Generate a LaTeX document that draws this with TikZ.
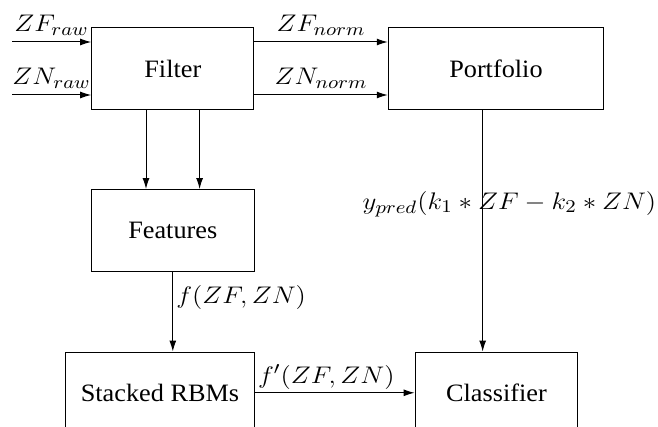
\documentclass[tikz,border=0pt]{standalone}
\usepackage[no-math]{fontspec}
\setmainfont{Liberation Serif}
\usepackage{graphicx}
\usetikzlibrary{positioning,arrows.meta}

\newcommand{\boxtext}[1]{\scalebox{1.05}[1]{#1}}
\newcommand{\edgemath}[1]{\scalebox{1.12}[1]{$#1$}}

\begin{document}
\begin{tikzpicture}[-{Latex[length=5.5pt,width=3.5pt]},line width=0.5pt,
                    block/.style={draw,-,inner sep=0pt,minimum height=40.75pt},
                    every node/.style={font=\fontsize{12.5}{15}\selectfont}]

        \useasboundingbox (0,0) rectangle (329pt,-213.5pt);

        % Blocks
        \node[block,minimum width=81.15pt] (filter) at (86.4pt,-34.25pt) {\boxtext{Filter}};
        \node[block,minimum width=107.7pt] (portfolio) [right=66.65pt of filter] {\boxtext{Portfolio}};
        \node[block,minimum width=81.3pt] (features) [below=39.65pt of filter] {\boxtext{Features}};
        \node[block,minimum width=94.15pt] (rbm) [below=40pt of features.south east,anchor=north east] {\boxtext{Stacked RBMs}};
        \node[block,minimum width=81.35pt] (clf) [right=80pt of rbm] {\boxtext{Classifier}};

        % Free ends of the inputs
        \coordinate (zfin) at (6pt,-21pt);
        \coordinate (znin) at (6pt,-47.5pt);

        % Arrows
        \path[every node/.append style={inner sep=3pt}]
            (zfin) edge node[above] {\edgemath{ZF_{raw}}} (zfin -| filter.west)
            (znin) edge node[above] {\edgemath{ZN_{raw}}} (znin -| filter.west)
            ([yshift=13.25pt]filter.east) edge node[above] {\edgemath{ZF_{norm}}} ([yshift=13.25pt]portfolio.west)
            ([yshift=-13.25pt]filter.east) edge node[above] {\edgemath{ZN_{norm}}} ([yshift=-13.25pt]portfolio.west)
            ([xshift=-13.4pt]filter.south) edge ([xshift=-13.4pt]features.north)
            ([xshift=13.4pt]filter.south) edge ([xshift=13.4pt]features.north)
            (features.south) edge node[right,pos=0.32,inner sep=1.5pt] {\edgemath{f(ZF,ZN)}} (features.south |- rbm.north)
            (rbm) edge node[pos=0,anchor=south west,inner sep=1.5pt] {\edgemath{f'(ZF,ZN)}} (clf)
            ([xshift=-6.65pt]portfolio.south) edge node[pos=0.39,xshift=13.4pt] {\edgemath{y_{pred}(k_1*ZF-k_2*ZN)}} ([xshift=-6.65pt]portfolio.south |- clf.north);

        \end{tikzpicture}
\end{document}
